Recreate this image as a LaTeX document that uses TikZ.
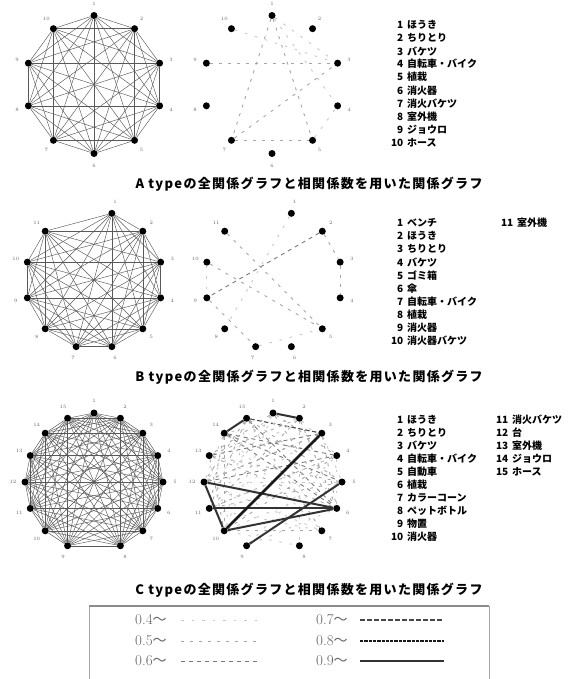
\documentclass[tikz,border=0pt]{standalone}
\usepackage{fontspec}
\newfontfamily\jp{Noto Sans CJK JP}
\tikzset{
  dot/.style={circle, fill=black, inner sep=0pt, minimum size=7pt},
  lab/.style={font=\fontsize{5}{5}\selectfont, text=black!60, inner sep=0pt},
  full/.style={draw=black!65, line width=0.45pt},
  w4/.style={draw=black!22, line width=0.9pt, dash pattern=on 2.5pt off 8pt},
  w5/.style={draw=black!35, line width=0.9pt, dash pattern=on 3pt off 6pt},
  w6/.style={draw=black!52, line width=0.9pt, dash pattern=on 4pt off 4pt},
  w7/.style={draw=black!72, line width=1.1pt, dash pattern=on 4.5pt off 2.5pt},
  w8/.style={draw=black!90, line width=2pt, dash pattern=on 3.3pt off 1pt},
  w9/.style={draw=black!80, line width=2pt},
  w9b/.style={draw=black!90, line width=2.8pt},
  jl/.style={font=\jp\bfseries\fontsize{10}{10}\selectfont, inner sep=0pt, anchor=west},
  captxt/.style={font=\jp\bfseries\fontsize{13}{13}\selectfont\addfontfeatures{LetterSpace=10}, inner sep=0pt},
  lg/.style={font=\fontsize{15}{15}\selectfont, text=black!60, inner sep=0pt, anchor=west},
}
\newcommand\mkgraph[5]{%
  \foreach \k in {1,...,#4}{%
    \pgfmathsetmacro\ang{#5}%
    \node[dot] (#1\k) at ({#2+69*cos(\ang)},{#3-69*sin(\ang)}) {};
    \node[lab] (#1t\k) at ({#2+81*cos(\ang)},{#3-81*sin(\ang)}) {\k};
  }}
\newcommand\completegraph[2]{%
  \foreach \i in {1,...,#2}{\foreach \j in {1,...,#2}{%
    \ifnum\i<\j \draw[full] (#1\i) -- (#1\j);\fi}}}
\newcommand\jnum[1]{\makebox[11pt][r]{#1}\hspace{4pt}}
\begin{document}
\begin{tikzpicture}[x=1pt,y=-1pt]
\useasboundingbox[fill=white] (0,0) rectangle (579,679);

% ---------- A ----------
\mkgraph{aL}{94}{84.5}{10}{90-36*(\k-1)}
\completegraph{aL}{10}
\mkgraph{aR}{272}{84.5}{10}{90-36*(\k-1)}
\foreach \a/\b/\s in {1/7/w5,1/5/w5,1/4/w4,1/3/w4,10/3/w4,9/3/w5,7/3/w5,7/5/w5,5/4/w4}
  \draw[\s] (aR\a) -- (aR\b);
\foreach \t [count=\i] in {ほうき,ちりとり,バケツ,自転車・バイク,植栽,消火器,消火バケツ,室外機,ジョウロ,ホース}
  \node[jl] (aj\i) at (392,{25+13.05*(\i-1)}) {\jnum{\i}\t};
\node[captxt] (capA) at (309,184) {A typeの全関係グラフと相関係数を用いた関係グラフ};

% ---------- B ----------
\mkgraph{bL}{94}{280}{11}{75-30*(\k-1)}
\completegraph{bL}{11}
\mkgraph{bR}{273.5}{280}{11}{75-30*(\k-1)}
\foreach \a/\b/\s in {2/9/w6,2/3/w5,3/4/w5,1/8/w4,11/5/w5,10/5/w5,10/9/w4,9/7/w5,7/5/w4}
  \draw[\s] (bR\a) -- (bR\b);
\foreach \t [count=\i] in {ベンチ,ほうき,ちりとり,バケツ,ゴミ箱,傘,自転車・バイク,植栽,消火器,消火器バケツ}
  \node[jl] (bj\i) at (392,{223+13.1*(\i-1)}) {\jnum{\i}\t};
\node[jl] (bj11) at (502,223) {\jnum{11}室外機};
\node[captxt] (capB) at (309,377) {B typeの全関係グラフと相関係数を用いた関係グラフ};

% ---------- C ----------
\mkgraph{cL}{94}{482}{15}{\k<9 ? 90-22.5*(\k-1) : 90-22.5*\k}
\completegraph{cL}{15}
\mkgraph{cR}{273}{482}{15}{\k<9 ? 90-22.5*(\k-1) : 90-22.5*\k}
\foreach \a/\b/\s in {15/3/w7,13/3/w6,14/5/w6,12/4/w6,11/4/w5,12/3/w5,13/2/w5,15/6/w6,1/6/w5,
  14/6/w6,13/5/w5,10/4/w5,11/5/w5,10/5/w4,9/4/w4,10/7/w5,11/7/w4,12/7/w4,15/7/w5,14/7/w4,
  2/6/w5,3/5/w4,3/6/w5,4/6/w4,15/10/w4,14/11/w5,13/10/w5,14/12/w4,1/13/w5,2/14/w4,1/12/w4,
  3/11/w4,2/11/w5,15/5/w5,13/6/w5,12/5/w4,4/11/w4,9/6/w4,10/8/w4,2/8/w4,15/11/w5,1/10/w4,
  14/4/w6,3/12/w5,2/12/w4,14/10/w5,15/12/w5,1/11/w4,2/4/w4,1/4/w5}
  \draw[\s] (cR\a) -- (cR\b);
\foreach \a/\b in {1/2,14/15,12/6,12/10,11/6,10/6,9/5}
  \draw[w9] (cR\a) -- (cR\b);
\draw[w9b] (cR3) -- (cR10);
\foreach \t [count=\i] in {ほうき,ちりとり,バケツ,自転車・バイク,自動車,植栽,カラーコーン,ペットボトル,物置,消火器}
  \node[jl] (cj\i) at (392,{420+13*(\i-1)}) {\jnum{\i}\t};
\foreach \t [count=\i from 11] in {消火バケツ,台,室外機,ジョウロ,ホース}
  \node[jl] (cj\i) at (497,{420+13*(\i-11)}) {\jnum{\i}\t};
\node[captxt] (capC) at (309,590) {C typeの全関係グラフと相関係数を用いた関係グラフ};

% ---------- legend ----------
\node[draw=black!35, line width=1.2pt, minimum width=400pt, minimum height=73pt, inner sep=0pt, anchor=north west] (legbox) at (89,606) {};
\coordinate (rl) at (89,606); \coordinate (rr) at (489,606);
\draw[black!45, line width=2.2pt] (rl) -- (rr);
\foreach \v/\y/\s [count=\i] in {0.4/620/w4,0.5/641/w5,0.6/661/w6}{
  \node[lg] (lt\i) at (135,\y) {\v{\jp\fontsize{14}{14}\selectfont 〜}};
  \coordinate (la\i) at (181,\y); \coordinate (lb\i) at (257,\y);
  \draw[\s] (la\i) -- (lb\i);
}
\foreach \v/\y/\s [count=\i from 4] in {0.7/620/w7,0.8/641/w8,0.9/661/w9}{
  \node[lg] (lt\i) at (316,\y) {\v{\jp\fontsize{14}{14}\selectfont 〜}};
  \coordinate (la\i) at (360,\y); \coordinate (lb\i) at (444,\y);
  \draw[\s] (la\i) -- (lb\i);
}
\end{tikzpicture}
\end{document}
